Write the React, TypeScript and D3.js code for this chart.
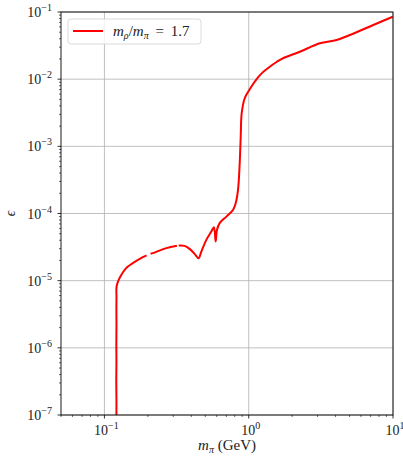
import React, { useEffect, useRef } from 'react';
import * as d3 from 'd3';

// m_pi (GeV) and epsilon; null = gap in the line
const mPi: (number | null)[] = [
  0.1211, 0.1211, 0.1208, 0.1211, 0.1209, 0.1212, 0.1210, 0.1212, 0.1213,
  0.1240, 0.1271, 0.1415, 0.1572, 0.1845, 0.196, null,
  0.2087, 0.2225, 0.2683, 0.318, null, 0.327, 0.3593, 0.3893, 0.4217, 0.4496,
  0.4694, 0.5085, 0.5508, 0.5742, 0.5899, 0.6025, 0.629,
  0.7002, 0.778, 0.812, 0.843, 0.866, 0.880, 0.894, 0.938,
  1.016, 1.160, 1.240, 1.399, 1.56, 1.730, 2.26, 3.11, 4.06, 5.03, 7.30, 9.95,
];
const eps: (number | null)[] = [
  1e-7, 1.7e-7, 3.3e-7, 6.2e-7, 1.1e-6, 2.2e-6, 3.8e-6, 5.6e-6, 8.1e-6,
  9.6e-6, 1.09e-5, 1.54e-5, 1.82e-5, 2.24e-5, 2.38e-5, null,
  2.51e-5, 2.62e-5, 3.05e-5, 3.3e-5, null, 3.34e-5, 3.3e-5, 2.97e-5, 2.51e-5, 2.16e-5,
  2.71e-5, 4.05e-5, 5.38e-5, 6.25e-5, 3.82e-5, 5.7e-5, 7.18e-5,
  8.99e-5, 1.13e-4, 1.42e-4, 2.25e-4, 5.61e-4, 1.39e-3, 3.11e-3, 5.2e-3,
  7.1e-3, 1.06e-2, 1.24e-2, 1.53e-2, 1.8e-2, 2.05e-2, 2.56e-2, 3.42e-2, 3.83e-2, 4.55e-2, 6.41e-2, 8.51e-2,
];

const xDecades = [-1, 0, 1];
const yDecades = [-7, -6, -5, -4, -3, -2, -1];
const legendLabel = '1.7';

type Pt = { x: number | null; y: number | null };

export default function App() {
  const ref = useRef<SVGSVGElement>(null);

  useEffect(() => {
    const svg = d3.select(ref.current);
    svg.selectAll('*').remove();

    const W = 403, H = 457;
    const m = { left: 61, right: 10, top: 12, bottom: 42 };
    const iw = W - m.left - m.right;
    const ih = H - m.top - m.bottom;
    const font = "'Liberation Serif', 'DejaVu Serif', serif";

    const x = d3.scaleLog().domain([0.05, 10]).range([0, iw]);
    const y = d3.scaleLog().domain([1e-7, 1e-1]).range([ih, 0]);

    const g = svg.append('g').attr('transform', `translate(${m.left},${m.top})`);

    // grid at decades
    xDecades.forEach(d => {
      g.append('line')
        .attr('x1', x(10 ** d)).attr('x2', x(10 ** d))
        .attr('y1', 0).attr('y2', ih)
        .attr('stroke', '#b0b0b0').attr('stroke-width', 0.8);
    });
    yDecades.forEach(d => {
      g.append('line')
        .attr('x1', 0).attr('x2', iw)
        .attr('y1', y(10 ** d)).attr('y2', y(10 ** d))
        .attr('stroke', '#b0b0b0').attr('stroke-width', 0.8);
    });

    // minor ticks
    const xMinor: number[] = [];
    for (let e = -2; e <= 0; e++) for (let k = 2; k <= 9; k++) {
      const v = k * 10 ** e;
      if (v >= 0.05 && v <= 10) xMinor.push(v);
    }
    const yMinor: number[] = [];
    for (let e = -7; e <= -2; e++) for (let k = 2; k <= 9; k++) yMinor.push(k * 10 ** e);

    xMinor.forEach(v => {
      g.append('line').attr('x1', x(v)).attr('x2', x(v))
        .attr('y1', ih).attr('y2', ih + 2).attr('stroke', '#000').attr('stroke-width', 0.6);
    });
    yMinor.forEach(v => {
      g.append('line').attr('x1', 0).attr('x2', -2)
        .attr('y1', y(v)).attr('y2', y(v)).attr('stroke', '#000').attr('stroke-width', 0.6);
    });

    // major ticks + labels
    xDecades.forEach(d => {
      g.append('line').attr('x1', x(10 ** d)).attr('x2', x(10 ** d))
        .attr('y1', ih).attr('y2', ih + 3.5).attr('stroke', '#000').attr('stroke-width', 0.8);
      const t = g.append('text')
        .attr('x', x(10 ** d) + 2).attr('y', ih + 20)
        .attr('text-anchor', 'middle')
        .attr('font-family', font).attr('font-size', 14).attr('fill', '#222');
      t.append('tspan').text('10');
      t.append('tspan').attr('dy', -6).attr('font-size', 10).text(d < 0 ? `\u2212${-d}` : `${d}`);
    });
    yDecades.forEach(d => {
      g.append('line').attr('x1', 0).attr('x2', -3.5)
        .attr('y1', y(10 ** d)).attr('y2', y(10 ** d)).attr('stroke', '#000').attr('stroke-width', 0.8);
      const t = g.append('text')
        .attr('x', -9).attr('y', y(10 ** d) + 5)
        .attr('text-anchor', 'end')
        .attr('font-family', font).attr('font-size', 14).attr('fill', '#222');
      t.append('tspan').text('10');
      t.append('tspan').attr('dy', -6).attr('font-size', 10).text(d < 0 ? `\u2212${-d}` : `${d}`);
    });

    // curve
    const pts: Pt[] = mPi.map((v, i) => ({ x: v, y: eps[i] }));
    const line = d3.line<Pt>()
      .defined(d => d.x !== null && d.y !== null)
      .x(d => x(d.x as number))
      .y(d => y(d.y as number))
      .curve(d3.curveCatmullRom.alpha(0.5));
    g.append('path')
      .datum(pts)
      .attr('fill', 'none')
      .attr('stroke', '#ff0000')
      .attr('stroke-width', 2)
      .attr('stroke-linejoin', 'round')
      .attr('d', line);

    // frame
    g.append('rect').attr('width', iw).attr('height', ih)
      .attr('fill', 'none').attr('stroke', '#000').attr('stroke-width', 0.9);

    // legend
    const lg = g.append('g').attr('transform', 'translate(7,7)');
    lg.append('rect').attr('width', 133).attr('height', 25).attr('rx', 3)
      .attr('fill', '#fff').attr('fill-opacity', 0.8)
      .attr('stroke', '#d0d0d0').attr('stroke-width', 0.8);
    lg.append('line').attr('x1', 5).attr('x2', 35).attr('y1', 12).attr('y2', 12)
      .attr('stroke', '#ff0000').attr('stroke-width', 2);
    const lt = lg.append('text').attr('x', 45).attr('y', 17)
      .attr('font-family', font).attr('font-size', 15).attr('fill', '#222');
    lt.append('tspan').attr('font-style', 'italic').text('m');
    lt.append('tspan').attr('font-style', 'italic').attr('font-size', 10).attr('dy', 3).text('\u03c1');
    lt.append('tspan').attr('dy', -3).text('/');
    lt.append('tspan').attr('font-style', 'italic').text('m');
    lt.append('tspan').attr('font-style', 'italic').attr('font-size', 10).attr('dy', 3).text('\u03c0');
    lt.append('tspan').attr('dy', -3).text(`\u2009 = \u2009${legendLabel}`);

    // axis labels
    const xl = svg.append('text').attr('x', m.left + iw / 2).attr('y', 450)
      .attr('text-anchor', 'middle')
      .attr('font-family', font).attr('font-size', 15).attr('fill', '#222');
    xl.append('tspan').attr('font-style', 'italic').text('m');
    xl.append('tspan').attr('font-style', 'italic').attr('font-size', 10).attr('dy', 3).text('\u03c0');
    xl.append('tspan').attr('dy', -3).text(' (GeV)');

    svg.append('text')
      .attr('transform', `translate(15,${m.top + ih / 2}) rotate(-90)`)
      .attr('text-anchor', 'middle')
      .attr('font-family', font).attr('font-size', 14).attr('font-style', 'italic').attr('fill', '#222')
      .text('\u03f5');
  }, []);

  return <svg ref={ref} width={403} height={457} style={{ display: 'block', position: 'absolute', left: 0, top: 0 }} />;
}
